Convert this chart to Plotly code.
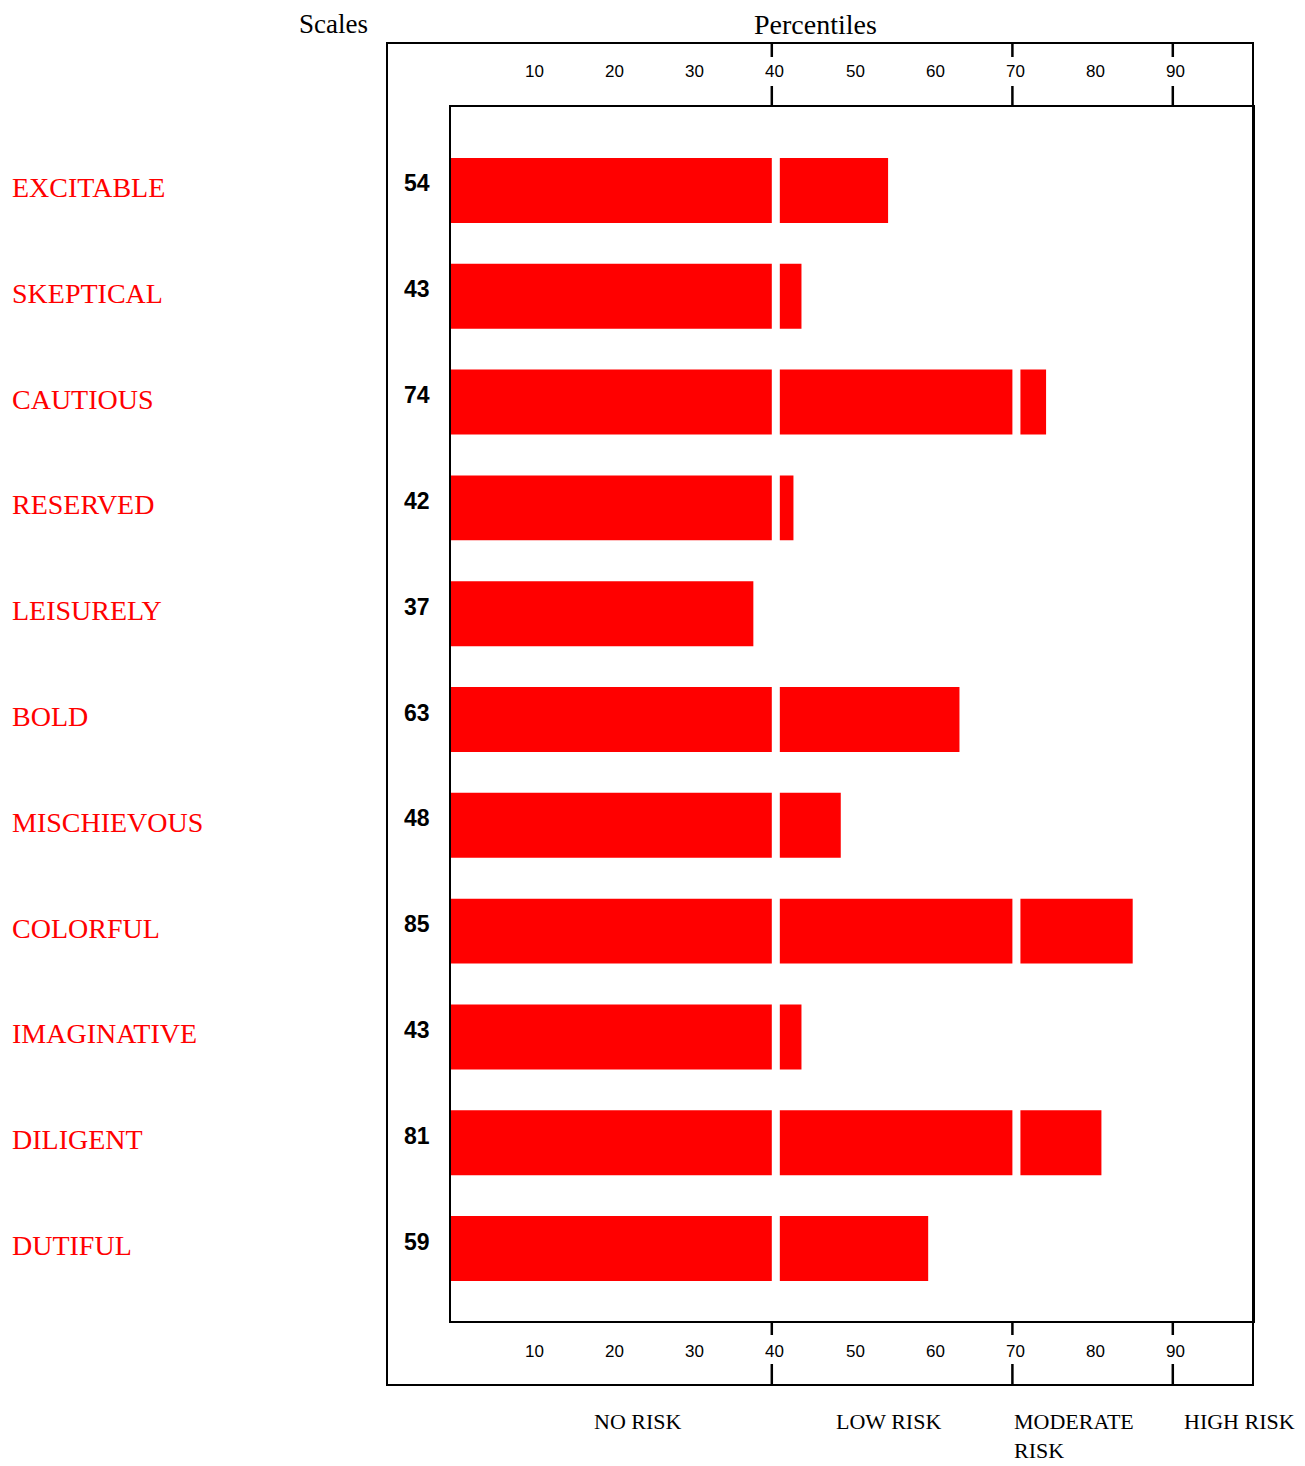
import plotly.graph_objects as go

# ---- data ----
scales = ["EXCITABLE", "SKEPTICAL", "CAUTIOUS", "RESERVED", "LEISURELY", "BOLD",
          "MISCHIEVOUS", "COLORFUL", "IMAGINATIVE", "DILIGENT", "DUTIFUL"]
scores = [54, 43, 74, 42, 37, 63, 48, 85, 43, 81, 59]
# bar end points (percentile units)
bar_ends = [54.5, 43.7, 74.2, 42.7, 37.7, 63.4, 48.6, 85.0, 43.7, 81.1, 59.5]
segment_starts = [0, 41, 71]
segment_limits = [40, 70, 100]
tick_labels = [10, 20, 30, 40, 50, 60, 70, 80, 90]
band_breaks = [40, 70, 90]
risk_bands = ["NO RISK", "LOW RISK", "MODERATE<br>RISK", "HIGH RISK"]
risk_label_left = [17.6, 47.8, 69.9, 91.2]

RED = "#FF0000"
SERIF = "Liberation Serif, Times New Roman, serif"
SANS = "Liberation Sans, Arial, sans-serif"

fig = go.Figure()

for s0, lim in zip(segment_starts, segment_limits):
    lengths, bases = [], []
    for e in bar_ends:
        stop = min(e, lim)
        lengths.append(stop - s0 if stop > s0 else None)
        bases.append(s0)
    fig.add_trace(go.Bar(
        y=scales, x=lengths, base=bases, orientation="h",
        width=0.614, marker=dict(color=RED, line=dict(width=0)),
        showlegend=False, hoverinfo="skip"))

OFF = 8  # page body margin
W, H = 1297, 1458
L, R, T, B = 443, 52, 99, 145
pw, ph = W - L - R, H - T - B


def px_x(px):
    return (px - OFF - L) / pw


def px_y(py):
    return (H - B - (py - OFF)) / ph


annotations = []
for name, sc in zip(scales, scores):
    annotations.append(dict(x=px_x(10), xref="paper", y=name, yref="y",
                            text=name, showarrow=False, xanchor="left",
                            yanchor="middle", yshift=3,
                            font=dict(family=SERIF, size=28, color=RED)))
    annotations.append(dict(x=px_x(417), xref="paper", y=name, yref="y",
                            text="<b>%d</b>" % sc, showarrow=False, xanchor="center",
                            yanchor="middle", yshift=7,
                            font=dict(family=SANS, size=23, color="black")))

for t in tick_labels:
    for yy in (px_y(72), px_y(1352)):
        annotations.append(dict(x=t, xref="x", y=yy, yref="paper", text=str(t),
                                showarrow=False, xanchor="center", yanchor="middle",
                                xshift=3, font=dict(family=SANS, size=17, color="black")))

annotations.append(dict(x=px_x(333.5), xref="paper", y=px_y(8), yref="paper",
                        text="Scales", showarrow=False, xanchor="center", yanchor="top",
                        borderpad=0,
                        font=dict(family=SERIF, size=27, color="black")))
annotations.append(dict(x=px_x(815), xref="paper", y=px_y(8), yref="paper",
                        text="Percentiles", showarrow=False, xanchor="center", yanchor="top",
                        borderpad=0,
                        font=dict(family=SERIF, size=28, color="black")))

for lab, left in zip(risk_bands, risk_label_left):
    annotations.append(dict(x=left, xref="x", y=px_y(1407), yref="paper", text=lab,
                            showarrow=False, xanchor="left", yanchor="top", align="left",
                            font=dict(family=SERIF, size=22, color="black")))

shapes = []
shapes.append(dict(type="rect", xref="paper", yref="paper",
                   x0=px_x(387), x1=1.0, y0=px_y(1385), y1=px_y(43),
                   line=dict(color="black", width=2), fillcolor="rgba(0,0,0,0)", layer="above"))
for b in band_breaks:
    for (ya, yb) in ((43, 57), (86, 107), (1321, 1335), (1364, 1385)):
        shapes.append(dict(type="line", xref="x", yref="paper", x0=b, x1=b,
                           y0=px_y(ya), y1=px_y(yb),
                           line=dict(color="black", width=2.5), layer="above"))

fig.update_layout(
    width=W, height=H,
    margin=dict(l=L, r=R, t=T, b=B, pad=0),
    paper_bgcolor="white", plot_bgcolor="white",
    barmode="overlay",
    xaxis=dict(range=[0, 100], showgrid=False, zeroline=False, showticklabels=False,
               ticks="", showline=True, mirror=True, linecolor="black", linewidth=2,
               fixedrange=True),
    yaxis=dict(type="category", categoryorder="array", categoryarray=scales,
               range=[10.685, -0.789], showgrid=False, zeroline=False,
               showticklabels=False, ticks="", showline=True, mirror=True,
               linecolor="black", linewidth=2, fixedrange=True),
    annotations=annotations,
    shapes=shapes,
)

fig.write_html("out.html")
